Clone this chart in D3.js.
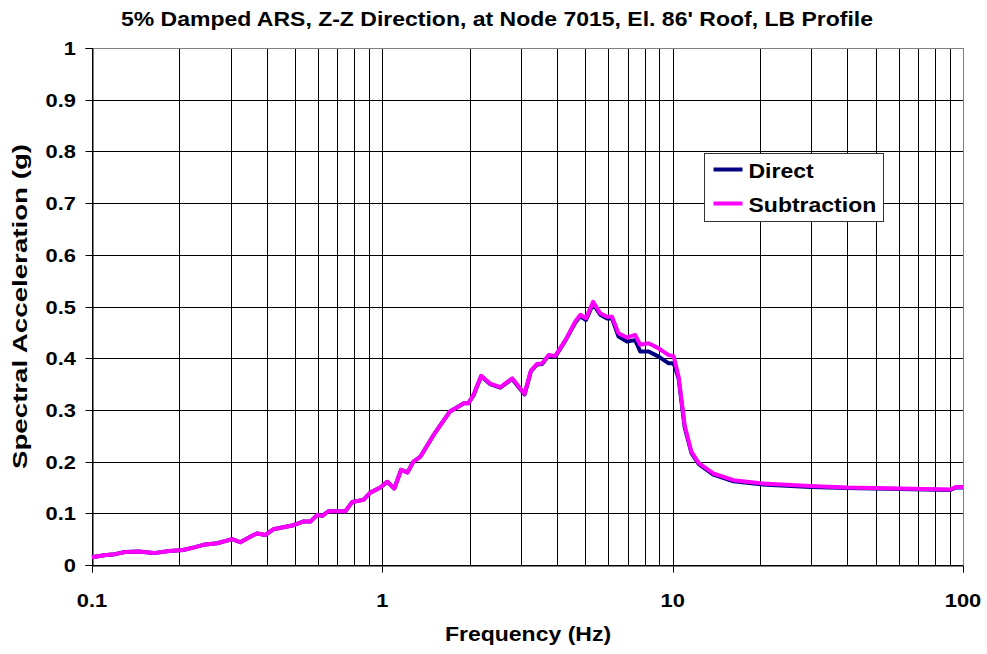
<!DOCTYPE html>
<html>
<head>
<meta charset="utf-8">
<script src="https://cdn.jsdelivr.net/npm/d3@7"></script>
<style>
  body { margin: 0; background: #fff; }
  text { font-family: "Liberation Sans", Arial, sans-serif; font-weight: bold; fill: #000; }
</style>
</head>
<body>
<svg id="chart" width="987" height="654"></svg>
<script>
// chart data
const title = "5% Damped ARS, Z-Z Direction, at Node 7015, El. 86' Roof, LB Profile";
const xTitle = "Frequency (Hz)";
const yTitle = "Spectral Acceleration (g)";
const seriesNames = ["Direct", "Subtraction"];
const xTicks = [0.1, 1, 10, 100];
const xTickLabels = ["0.1", "1", "10", "100"];
const yTicks = [0, 0.1, 0.2, 0.3, 0.4, 0.5, 0.6, 0.7, 0.8, 0.9, 1];
const yTickLabels = ["0", "0.1", "0.2", "0.3", "0.4", "0.5", "0.6", "0.7", "0.8", "0.9", "1"];

const freqs = [0.1, 0.11, 0.12, 0.13, 0.145, 0.163, 0.185, 0.206, 0.225, 0.242, 0.27, 0.304, 0.324, 0.36,
  0.371, 0.395, 0.421, 0.494, 0.534, 0.565, 0.597, 0.621, 0.652, 0.746, 0.788, 0.86, 0.909, 0.984,
  1.04, 1.1, 1.16, 1.22, 1.28, 1.35, 1.5, 1.71, 1.91, 1.98, 2.06, 2.19, 2.35, 2.55, 2.8, 3.09, 3.25,
  3.41, 3.55, 3.74, 3.94, 4.27, 4.62, 4.81, 5.03, 5.32, 5.63, 5.94, 6.18, 6.51, 6.96, 7.43, 7.73,
  8.26, 8.95, 9.69, 10.08, 10.48, 11.0, 11.6, 12.3, 13.8, 16.2, 20.1, 29.8, 39.8, 60.9, 90.5, 94.6, 100];

const subtraction = [0.015, 0.019, 0.021, 0.025, 0.026, 0.023, 0.027, 0.029, 0.034, 0.039, 0.042, 0.05, 0.044, 0.058,
  0.061, 0.058, 0.069, 0.077, 0.084, 0.084, 0.097, 0.095, 0.104, 0.104, 0.122, 0.126, 0.14, 0.15,
  0.161, 0.148, 0.184, 0.179, 0.2, 0.209, 0.251, 0.297, 0.313, 0.313, 0.329, 0.366, 0.351, 0.344, 0.361, 0.331, 0.376,
  0.389, 0.39, 0.406, 0.404, 0.435, 0.471, 0.484, 0.477, 0.509, 0.487, 0.48, 0.48, 0.448, 0.44, 0.445, 0.426,
  0.429, 0.419, 0.406, 0.404, 0.364, 0.27, 0.219, 0.197, 0.177, 0.164, 0.158, 0.153, 0.15, 0.148, 0.146, 0.151, 0.151];

const direct = [0.015, 0.019, 0.021, 0.025, 0.026, 0.023, 0.027, 0.029, 0.034, 0.039, 0.042, 0.05, 0.044, 0.058,
  0.061, 0.058, 0.069, 0.077, 0.084, 0.084, 0.097, 0.095, 0.104, 0.104, 0.122, 0.126, 0.14, 0.15,
  0.161, 0.148, 0.184, 0.179, 0.2, 0.209, 0.251, 0.297, 0.313, 0.313, 0.328, 0.365, 0.350, 0.343, 0.360, 0.330, 0.375,
  0.388, 0.389, 0.405, 0.403, 0.434, 0.469, 0.481, 0.474, 0.505, 0.484, 0.477, 0.477, 0.442, 0.432, 0.435, 0.413,
  0.413, 0.403, 0.39, 0.39, 0.361, 0.266, 0.217, 0.195, 0.175, 0.162, 0.156, 0.151, 0.149, 0.147, 0.145, 0.15, 0.15];

const colors = { Direct: "#000080", Subtraction: "#ff00ff" };

// layout
const svg = d3.select('#chart');
const margin = { top: 48, bottom: 89, left: 92, right: 24 };
const width = +svg.attr('width');
const height = +svg.attr('height');
const sx = 1.15; // text in the original is a bit wide

const x = d3.scaleLog().domain([0.1, 100]).range([margin.left, width - margin.right]);
const y = d3.scaleLinear().domain([0, 1]).range([height - margin.bottom, margin.top]);
const crisp = v => Math.round(v) + 0.5;

const addText = (g, str, tx, ty, size, anchor, rot, stretch) => {
  g.append('text')
    .attr('transform', `translate(${tx},${ty}) rotate(${rot || 0}) scale(${stretch || sx},1)`)
    .attr('text-anchor', anchor)
    .style('font-size', size + 'px')
    .text(str);
};

// grid
const grid = svg.append('g');
const minor = [];
for (let d = 0.1; d < 100; d *= 10)
  for (let k = 1; k < 10; k++) minor.push(d * k);
minor.push(100);

minor.forEach(v => {
  grid.append('line')
    .attr('x1', crisp(x(v))).attr('x2', crisp(x(v)))
    .attr('y1', y(1)).attr('y2', y(0))
    .style('stroke', '#000').style('stroke-width', 1);
});
yTicks.forEach(v => {
  grid.append('line')
    .attr('x1', x(0.1)).attr('x2', x(100))
    .attr('y1', crisp(y(v))).attr('y2', crisp(y(v)))
    .style('stroke', '#000').style('stroke-width', 1);
});

// border (top/right gray)
grid.append('line').attr('x1', x(0.1)).attr('x2', x(100)).attr('y1', crisp(y(1))).attr('y2', crisp(y(1)))
  .style('stroke', '#808080');
grid.append('line').attr('x1', crisp(x(100))).attr('x2', crisp(x(100))).attr('y1', y(1)).attr('y2', y(0))
  .style('stroke', '#808080');

// axes
const yAxis = svg.append('g').attr('transform', `translate(${crisp(x(0.1))},0)`)
  .call(d3.axisLeft(y).tickValues(yTicks).tickSize(7).tickFormat(''));
const xAxis = svg.append('g').attr('transform', `translate(0,${crisp(y(0))})`)
  .call(d3.axisBottom(x).tickValues(xTicks).tickSize(7).tickFormat(''));
[xAxis, yAxis].forEach(a => {
  a.select('.domain').attr('stroke', '#000');
  a.selectAll('.tick line').attr('stroke', '#000');
});
xAxis.selectAll('.tick').attr('transform', d => `translate(${crisp(x(d))},0)`);
yAxis.selectAll('.tick').attr('transform', d => `translate(0,${crisp(y(d))})`);

// tick labels
const labels = svg.append('g');
yTicks.forEach((v, i) => addText(labels, yTickLabels[i], 76, y(v) + 7, 19, 'end'));
xTicks.forEach((v, i) => addText(labels, xTickLabels[i], x(v), 607, 19, 'middle'));

// titles
addText(labels, title, 497, 26, 20, 'middle');
addText(labels, xTitle, 528, 641, 20, 'middle');
addText(labels, yTitle, 27, (y(0) + y(1)) / 2, 19.5, 'middle', -90, 1.42);

// series
const line = d3.line().x(d => x(d[0])).y(d => y(d[1]));
const plot = svg.append('g');
plot.append('path')
  .datum(freqs.map((f, i) => [f, direct[i]]))
  .attr('d', line)
  .style('fill', 'none').style('stroke', colors.Direct).style('stroke-width', 4)
  .style('stroke-linejoin', 'round');
plot.append('path')
  .datum(freqs.map((f, i) => [f, subtraction[i]]))
  .attr('d', line)
  .style('fill', 'none').style('stroke', colors.Subtraction).style('stroke-width', 4)
  .style('stroke-linejoin', 'round');

// legend
const legend = svg.append('g').attr('transform', 'translate(704.5,153.5)');
legend.append('rect').attr('width', 179).attr('height', 68)
  .style('fill', '#fff').style('stroke', '#333').style('stroke-width', 1);
seriesNames.forEach((name, i) => {
  const ly = 16 + i * 34;
  legend.append('line')
    .attr('x1', 9).attr('x2', 38).attr('y1', ly).attr('y2', ly)
    .style('stroke', colors[name]).style('stroke-width', 4);
  addText(legend, name, 44, ly + 8, 20, 'start');
});
</script>
</body>
</html>
